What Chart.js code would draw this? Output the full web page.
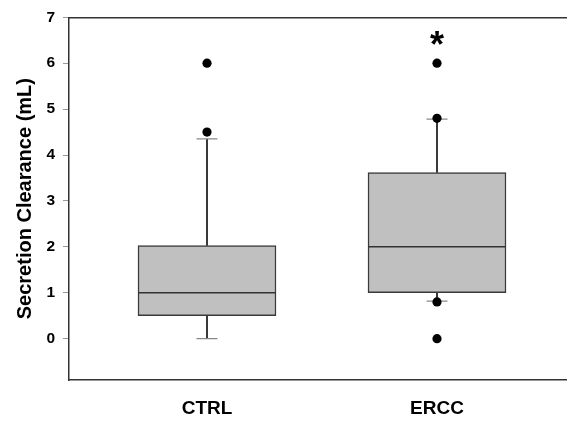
<!DOCTYPE html>
<html>
<head>
<meta charset="utf-8">
<script src="https://cdn.jsdelivr.net/npm/chart.js@4/dist/chart.umd.min.js"></script>
<style>
html,body{margin:0;padding:0;background:#fff;overflow:hidden;}
#wrap{position:absolute;left:0;top:0;width:580px;height:422px;}
</style>
</head>
<body>
<div id="wrap"><canvas id="c"></canvas></div>
<script>
// ---- data ----
const categories = ['CTRL', 'ERCC'];
const positions = [1, 2];
const q1 = [0.5, 1.0];
const median = [1.0, 2.0];
const q3 = [2.03, 3.62];
const whiskerLow = [0.0, 0.82];
const whiskerHigh = [4.35, 4.78];
const outliersCTRL = [6.0, 4.5];
const outliersERCC = [6.0, 4.8, 0.8, 0.0];
const yTicks = [0, 1, 2, 3, 4, 5, 6, 7];
const significanceMarks = ['', '*'];
const significanceY = [6.14, 6.14];

const FONT = "Arial, 'Liberation Sans', sans-serif";

const boxData = positions.map((p, i) => ({x: p, y: [q1[i], q3[i]]}));
const upperWhisker = positions.map((p, i) => ({x: p, y: [q3[i], whiskerHigh[i]]}));
const lowerWhisker = positions.map((p, i) => ({x: p, y: [whiskerLow[i], q1[i]]}));
const medianPts = positions.map((p, i) => ({x: p, y: median[i]}));
const capPts = [];
positions.forEach((p, i) => { capPts.push({x: p, y: whiskerHigh[i]}); capPts.push({x: p, y: whiskerLow[i]}); });
const outlierPts = outliersCTRL.map(v => ({x: positions[0], y: v}))
  .concat(outliersERCC.map(v => ({x: positions[1], y: v})));

const sigPlugin = {
  id: 'sig',
  afterDatasetsDraw(chart) {
    const ctx = chart.ctx, xs = chart.scales.x, ys = chart.scales.y;
    ctx.save();
    ctx.fillStyle = '#000';
    ctx.font = 'bold 36px ' + FONT;
    ctx.textAlign = 'center';
    ctx.textBaseline = 'alphabetic';
    significanceMarks.forEach((m, i) => {
      if (!m) return;
      ctx.fillText(m, xs.getPixelForValue(positions[i]), ys.getPixelForValue(significanceY[i]));
    });
    ctx.restore();
  }
};

new Chart(document.getElementById('c'), {
  type: 'bar',
  data: {
    datasets: [
      {type: 'bar', data: upperWhisker, backgroundColor: '#111', borderWidth: 0, barThickness: 1, grouped: false, order: 5},
      {type: 'bar', data: lowerWhisker, backgroundColor: '#111', borderWidth: 0, barThickness: 1, grouped: false, order: 5},
      {type: 'bar', data: boxData, backgroundColor: '#c0c0c0', borderColor: '#3a3a3a', borderWidth: 1.5, borderSkipped: false, barThickness: 138, grouped: false, order: 4},
      {type: 'scatter', data: medianPts, pointStyle: 'line', pointRadius: 69, pointHoverRadius: 69, borderColor: '#333', borderWidth: 1.5, order: 3},
      {type: 'scatter', data: capPts, pointStyle: 'line', pointRadius: 10.5, pointHoverRadius: 10.5, borderColor: '#888', borderWidth: 1.2, order: 2},
      {type: 'scatter', data: outlierPts, pointStyle: 'circle', pointRadius: 4.6, pointHoverRadius: 4.6, backgroundColor: '#000', borderWidth: 0, order: 1}
    ]
  },
  options: {
    responsive: true,
    maintainAspectRatio: false,
    animation: false,
    events: [],
    layout: {autoPadding: false, padding: {left: 0, right: 5, top: 0, bottom: 0}},
    plugins: {legend: {display: false}, tooltip: {enabled: false}},
    scales: {
      x: {
        type: 'linear', position: 'bottom', min: 0.4, max: 2.6, offset: false,
        afterBuildTicks: s => { s.ticks = positions.map(v => ({value: v})); },
        afterFit: s => { s.height = 42; },
        grid: {display: false, drawTicks: false},
        border: {display: true, color: '#333', width: 1.5},
        ticks: {
          callback: (v) => categories[positions.indexOf(v)] || '',
          color: '#000', font: {family: FONT, size: 19, weight: 'bold'}, padding: 17, maxRotation: 0, autoSkip: false
        }
      },
      x2: {
        type: 'linear', position: 'top', min: 0.4, max: 2.6, offset: false,
        afterFit: s => { s.height = 16; },
        grid: {display: false, drawTicks: false},
        border: {display: true, color: '#333', width: 1.5},
        ticks: {display: false}
      },
      y: {
        type: 'linear', min: -0.9, max: 7,
        afterBuildTicks: s => { s.ticks = yTicks.map(v => ({value: v})); },
        afterFit: s => { s.width = 69; },
        grid: {drawOnChartArea: false, drawTicks: true, tickLength: 6, color: '#999', lineWidth: 1},
        border: {display: true, color: '#333', width: 1.5},
        ticks: {color: '#000', font: {family: FONT, size: 15.5, weight: 'bold'}, padding: 8},
        title: {display: true, text: 'Secretion Clearance (mL)', color: '#000', font: {family: FONT, size: 20, weight: 'bold'}, padding: {top: 13, bottom: 0}}
      }
    }
  },
  plugins: [sigPlugin]
});
</script>
</body>
</html>
